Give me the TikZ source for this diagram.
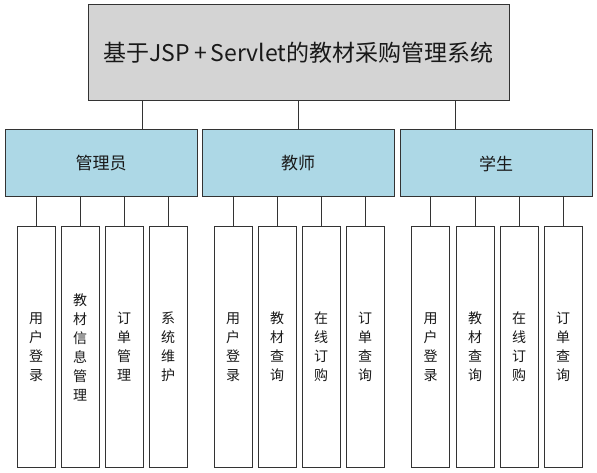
\documentclass[tikz,border=0pt]{standalone}
\usepackage{fontspec}
\setmainfont{Noto Sans CJK SC}
\definecolor{lightblue}{HTML}{ADD8E6}
\begin{document}
\begin{tikzpicture}[x=1pt,y=-1pt,
		every node/.style={inner sep=0pt,outer sep=0pt,text=black!90},
		top/.style={draw=black!80,line width=1pt,fill=black!17,minimum width=421pt,minimum height=96pt,font=\fontsize{23}{27}\selectfont},
		role/.style={draw=black!80,line width=1pt,fill=lightblue,minimum width=192pt,minimum height=67pt,font=\fontsize{17}{20}\selectfont},
		leaf/.style={draw=black!80,line width=1pt,fill=white,minimum width=38pt,minimum height=240pt,align=center,font=\fontsize{14}{19}\selectfont},
		link/.style={draw=black!80,line width=1pt}]
		\useasboundingbox (0,0) rectangle (597,473);
		
		\node[top] at (298.5, 53) (sys) {基于JSP{\,}+{\,}Servlet的教材采购管理系统};
		
		\node[role] at (101, 163.5) (admin) {管理员};
		\node[role] at (298, 163.5) (teacher) {教师};
		\node[role] at (496, 163.5) (student) {学生};
		
		\node[leaf] at (36, 347) (a1) {用\\户\\登\\录};
		\node[leaf] at (80, 347) (a2) {教\\材\\信\\息\\管\\理};
		\node[leaf] at (124, 347) (a3) {订\\单\\管\\理};
		\node[leaf] at (168, 347) (a4) {系\\统\\维\\护};
		
		\node[leaf] at (233, 347) (t1) {用\\户\\登\\录};
		\node[leaf] at (277, 347) (t2) {教\\材\\查\\询};
		\node[leaf] at (321, 347) (t3) {在\\线\\订\\购};
		\node[leaf] at (365, 347) (t4) {订\\单\\查\\询};
		
		\node[leaf] at (430.5, 347) (s1) {用\\户\\登\\录};
		\node[leaf] at (475, 347) (s2) {教\\材\\查\\询};
		\node[leaf] at (519, 347) (s3) {在\\线\\订\\购};
		\node[leaf] at (563, 347) (s4) {订\\单\\查\\询};
		
		% draw edges
		\draw[link] ([xshift=-156.5pt]sys.south) -- ([xshift=-156.5pt]sys.south |- admin.north);
		\draw[link] (sys.south) -- (sys.south |- teacher.north);
		\draw[link] ([xshift=156.5pt]sys.south) -- ([xshift=156.5pt]sys.south |- student.north);
		
		\draw[link] (a1.north) -- (a1.north |- admin.south);
		\draw[link] (a2.north) -- (a2.north |- admin.south);
		\draw[link] (a3.north) -- (a3.north |- admin.south);
		\draw[link] (a4.north) -- (a4.north |- admin.south);
		
		\draw[link] (t1.north) -- (t1.north |- teacher.south);
		\draw[link] (t2.north) -- (t2.north |- teacher.south);
		\draw[link] (t3.north) -- (t3.north |- teacher.south);
		\draw[link] (t4.north) -- (t4.north |- teacher.south);
		
		\draw[link] (s1.north) -- (s1.north |- student.south);
		\draw[link] (s2.north) -- (s2.north |- student.south);
		\draw[link] (s3.north) -- (s3.north |- student.south);
		\draw[link] (s4.north) -- (s4.north |- student.south);
\end{tikzpicture}
\end{document}
